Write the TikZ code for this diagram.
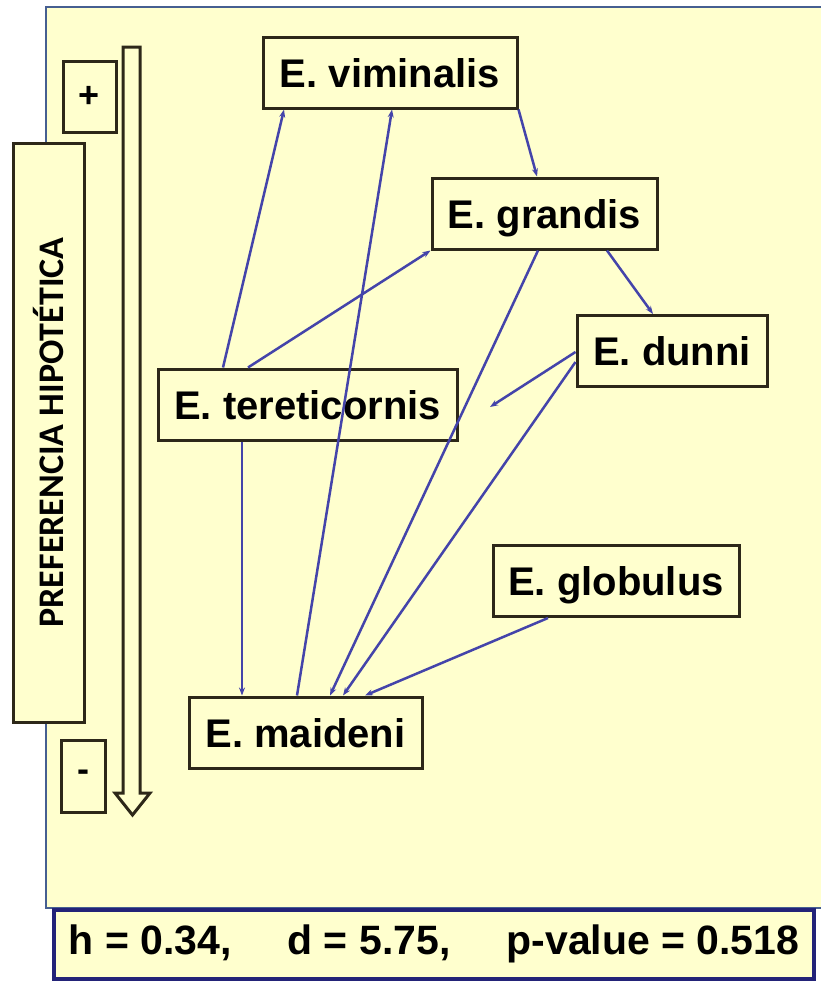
\documentclass[tikz,border=0pt]{standalone}
\usepackage{fontspec}
\setmainfont{Liberation Sans}
\newfontfamily\calibfont{Carlito}
\usepackage{tikz}
\usetikzlibrary{arrows.meta}
\usepackage{xcolor}
\definecolor{paleyellow}{RGB}{255,255,206}
\definecolor{boxline}{RGB}{45,40,25}
\definecolor{linkblue}{RGB}{68,68,170}
\definecolor{paneledge}{RGB}{70,95,145}
\definecolor{navyedge}{RGB}{35,35,120}

\begin{document}
\begin{tikzpicture}[
    x=1pt, y=-1pt,
    species/.style={rectangle, draw=boxline, line width=3pt, fill=paleyellow, inner sep=0pt, minimum height=71pt, text height=29pt, text depth=0pt, font=\bfseries\fontsize{40}{44}\selectfont},
    signbox/.style={rectangle, draw=boxline, line width=3pt, fill=paleyellow, inner sep=0pt, font=\bfseries\fontsize{36}{40}\selectfont},
    link/.style={-{Stealth[length=8pt,width=6pt]}, draw=linkblue, line width=2.5pt}
]
    \useasboundingbox (0,0) rectangle (821,983);

    % The panel
    \draw[paneledge, line width=2pt, fill=paleyellow] (46,7) rectangle (830,908);

    % Preference scale
    \node[rectangle, draw=boxline, line width=3pt, fill=paleyellow, minimum width=71pt, minimum height=579pt] (prefbox) at (48.5,432.5) {};
    \node[rotate=90, font=\calibfont\bfseries\fontsize{36}{40}\selectfont] (preftext) at (prefbox.center) {PREFERENCIA HIPOTÉTICA};
    \draw[boxline, line width=3pt, fill=paleyellow] (123,47) -- (140,47) -- (140,793) -- (150,793) -- (132.5,815) -- (115,793) -- (123,793) -- cycle;
    \node[signbox, minimum width=53pt, minimum height=71pt] (plus) at (89.5,96.5) {+};
    \node[signbox, minimum width=44pt, minimum height=72pt] (minus) at (83,776) {-};

    % The species
    \node[species, minimum width=254pt] (vim) at (390,72.5) {E. viminalis};
    \node[species, minimum width=225pt] (gra) at (544.5,213.5) {E. grandis};
    \node[species, minimum width=190pt] (dun) at (672,351) {E. dunni};
    \node[species, minimum width=299pt] (ter) at (307.5,404.5) {E. tereticornis};
    \node[species, minimum width=246pt] (glo) at (616,581) {E. globulus};
    \node[species, minimum width=233pt] (mai) at (305.5,732.5) {E. maideni};
    \coordinate (dunend) at (490,407);

    % Connections
    \draw[link] ([xshift=-84.5pt]ter.north) -- ([xshift=-106pt]vim.south);
    \draw[link] ([xshift=-59.5pt]ter.north) -- (gra.south west);
    \draw[link] ([xshift=-8.5pt]mai.north) -- ([xshift=2pt]vim.south);
    \draw[link] (vim.south east) -- ([xshift=-7.5pt]gra.north);
    \draw[link] ([xshift=62.5pt]gra.south) -- ([xshift=-19pt]dun.north);
    \draw[link] ([xshift=-6.5pt]gra.south) -- ([xshift=24.5pt]mai.north);
    \draw[link] ([yshift=-11pt]dun.west) -- ([xshift=37.5pt]mai.north);
    \draw[link] ([yshift=-1pt]dun.west) -- (dunend);
    \draw[link] ([xshift=-65.5pt]ter.south) -- ([xshift=-63.5pt]mai.north);
    \draw[link] ([xshift=-68pt]glo.south) -- ([xshift=59.5pt]mai.north);

    % Test result
    \node[rectangle, draw=navyedge, line width=4pt, fill=paleyellow, inner sep=0pt, minimum width=760pt, minimum height=69pt, font=\bfseries\fontsize{41}{45}\selectfont] (stats) at (434,944) {h = 0.34,\hspace{56pt}d = 5.75,\hspace{56pt}p-value = 0.518};
\end{tikzpicture}
\end{document}
